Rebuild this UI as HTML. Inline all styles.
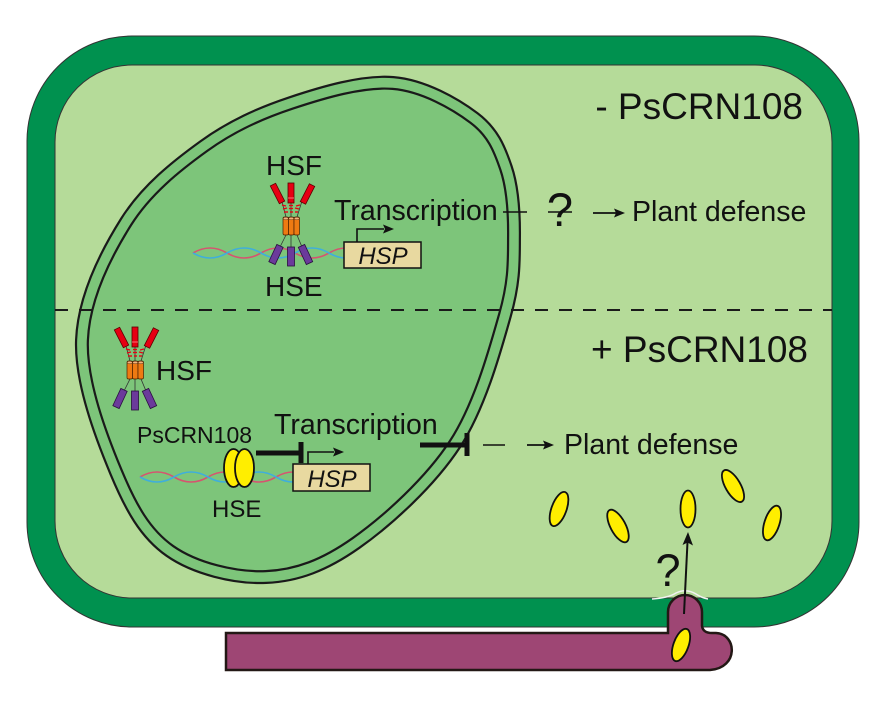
<!DOCTYPE html>
<html><head><meta charset="utf-8"><style>
html,body{margin:0;padding:0;background:#fff;}
svg{display:block;}
text{font-family:"Liberation Sans",Arial,sans-serif;fill:#111;}
</style></head><body>
<svg width="885" height="708" viewBox="0 0 885 708" xmlns="http://www.w3.org/2000/svg">
<defs>
<g id="hsf">
  <line x1="282" y1="202" x2="286" y2="217" stroke="#333" stroke-width="0.8"/>
  <line x1="291" y1="203" x2="291" y2="217" stroke="#333" stroke-width="0.8"/>
  <line x1="302" y1="201" x2="297" y2="217" stroke="#333" stroke-width="0.8"/>
  <rect x="-3" y="-10" width="6" height="20" fill="#E60012" stroke="#5a0000" stroke-width="0.8" transform="translate(277.5,193.5) rotate(-27)"/>
  <rect x="-3" y="-10" width="6" height="20" fill="#E60012" stroke="#5a0000" stroke-width="0.8" transform="translate(307.5,194) rotate(27)"/>
  <rect x="288" y="183" width="6" height="20" fill="#E60012" stroke="#5a0000" stroke-width="0.8"/>
  <line x1="288" y1="198" x2="294" y2="198" stroke="#ff9090" stroke-width="0.8"/>
  <g stroke="#E60012" stroke-width="1.4">
    <line x1="282" y1="205" x2="286" y2="206"/><line x1="289" y1="205.5" x2="293" y2="205.5"/><line x1="296" y1="206" x2="300" y2="205"/>
    <line x1="283" y1="209" x2="287" y2="208"/><line x1="289" y1="208.5" x2="293" y2="208.5"/><line x1="295" y1="208" x2="299" y2="209"/>
    <line x1="284" y1="212" x2="288" y2="212"/><line x1="290" y1="212" x2="293" y2="212"/><line x1="295" y1="212" x2="298" y2="212"/>
  </g>
  <line x1="286" y1="235" x2="280" y2="247" stroke="#333" stroke-width="0.8"/>
  <line x1="291" y1="235" x2="291" y2="247" stroke="#333" stroke-width="0.8"/>
  <line x1="297" y1="235" x2="302" y2="247" stroke="#333" stroke-width="0.8"/>
  <rect x="283" y="217" width="5.5" height="18" rx="1.5" fill="#EE7A12" stroke="#4a2000" stroke-width="0.7"/>
  <rect x="288.5" y="217" width="5.5" height="18" rx="1.5" fill="#EE7A12" stroke="#4a2000" stroke-width="0.7"/>
  <rect x="294" y="217" width="5.5" height="18" rx="1.5" fill="#EE7A12" stroke="#4a2000" stroke-width="0.7"/>
  <ellipse cx="285.75" cy="218.5" rx="2.5" ry="1.3" fill="#F6B27A" stroke="#4a2000" stroke-width="0.5"/>
  <ellipse cx="291.25" cy="218.5" rx="2.5" ry="1.3" fill="#F6B27A" stroke="#4a2000" stroke-width="0.5"/>
  <ellipse cx="296.75" cy="218.5" rx="2.5" ry="1.3" fill="#F6B27A" stroke="#4a2000" stroke-width="0.5"/>
  <rect x="-3.5" y="-9.5" width="7" height="19" fill="#6B3A9B" stroke="#2a1040" stroke-width="0.8" transform="translate(276,254.5) rotate(25)"/>
  <rect x="-3.5" y="-9.5" width="7" height="19" fill="#6B3A9B" stroke="#2a1040" stroke-width="0.8" transform="translate(305.5,254.5) rotate(-25)"/>
  <rect x="287.5" y="247" width="7" height="19" fill="#6B3A9B" stroke="#2a1040" stroke-width="0.8"/>
</g>
</defs>

<!-- cell wall -->
<rect x="27" y="36" width="832" height="591" rx="105" fill="#00914F" stroke="#333" stroke-width="1"/>
<rect x="55" y="65" width="777" height="533" rx="77" fill="#B5DB99" stroke="#333" stroke-width="1"/>

<!-- nucleus -->
<path d="M393,83 C423.5,85.5 455.2,103.8 474,118 C492.8,132.2 499.3,148.3 506,168 C512.7,187.7 514.2,211.5 514,236 C513.8,260.5 514.8,280.3 505,315 C495.2,349.7 479.8,406 455,444 C430.2,482 387.5,520.8 356,543 C324.5,565.2 297,575.7 266,577 C235,578.3 195,568.5 170,551 C145,533.5 130.7,507.2 116,472 C101.3,436.8 80.3,381.7 82,340 C83.7,298.3 105.7,254.3 126,222 C146.3,189.7 176.5,165.8 204,146 C231.5,126.2 259.5,113.5 291,103 C322.5,92.5 362.5,80.5 393,83 Z" fill="#7DC57A" stroke="#1a1a1a" stroke-width="14"/>
<path d="M393,83 C423.5,85.5 455.2,103.8 474,118 C492.8,132.2 499.3,148.3 506,168 C512.7,187.7 514.2,211.5 514,236 C513.8,260.5 514.8,280.3 505,315 C495.2,349.7 479.8,406 455,444 C430.2,482 387.5,520.8 356,543 C324.5,565.2 297,575.7 266,577 C235,578.3 195,568.5 170,551 C145,533.5 130.7,507.2 116,472 C101.3,436.8 80.3,381.7 82,340 C83.7,298.3 105.7,254.3 126,222 C146.3,189.7 176.5,165.8 204,146 C231.5,126.2 259.5,113.5 291,103 C322.5,92.5 362.5,80.5 393,83 Z" fill="none" stroke="#7DC57A" stroke-width="9.6"/>

<!-- dashed divider -->
<line x1="55" y1="310" x2="832" y2="310" stroke="#1a1a1a" stroke-width="2" stroke-dasharray="13 11"/>

<!-- top DNA -->
<path d="M193,253 Q210,243 227,253 T261,253 T295,253 T329,253 T363,253" fill="none" stroke="#D65470" stroke-width="1.6"/>
<path d="M193,253 Q210,263 227,253 T261,253 T295,253 T329,253 T363,253" fill="none" stroke="#3FAEDC" stroke-width="1.6"/>
<use href="#hsf"/>

<!-- top HSP box & arrow -->
<rect x="344" y="242" width="77" height="26" fill="#E8D9A0" stroke="#111" stroke-width="1.5"/>
<text x="383" y="264" font-size="24" font-style="italic" text-anchor="middle">HSP</text>
<path d="M357,242 V229 H384" fill="none" stroke="#111" stroke-width="1.6"/>
<path d="M394,229 L383,224.5 L385,229 L383,233.5 Z" fill="#111"/>

<text x="266" y="175" font-size="28">HSF</text>
<text x="265" y="296" font-size="28">HSE</text>
<text x="334" y="220" font-size="28.5">Transcription</text>
<line x1="503" y1="212" x2="527" y2="212" stroke="#111" stroke-width="1.5"/>
<text x="560" y="226" font-size="47" text-anchor="middle">?</text>
<line x1="548" y1="212" x2="572" y2="212" stroke="#111" stroke-width="1.5"/>
<line x1="593" y1="213" x2="616" y2="213" stroke="#111" stroke-width="1.8"/>
<path d="M625,213 L614,208.5 L616,213 L614,217.5 Z" fill="#111"/>
<text x="632" y="221" font-size="28.5">Plant defense</text>
<text x="803" y="119" font-size="37" text-anchor="end">- PsCRN108</text>

<!-- bottom -->
<text x="808" y="362" font-size="37" text-anchor="end">+ PsCRN108</text>
<use href="#hsf" transform="translate(-156,144)"/>
<text x="156" y="380" font-size="28">HSF</text>
<text x="137" y="443" font-size="23">PsCRN108</text>

<path d="M140,477 Q157,467 174,477 T208,477 T242,477 T276,477 T310,477" fill="none" stroke="#D65470" stroke-width="1.6"/>
<path d="M140,477 Q157,487 174,477 T208,477 T242,477 T276,477 T310,477" fill="none" stroke="#3FAEDC" stroke-width="1.6"/>
<ellipse cx="233.5" cy="468" rx="9.5" ry="19" fill="#FFEE00" stroke="#111" stroke-width="1.8"/>
<ellipse cx="244.5" cy="468" rx="9.5" ry="19" fill="#FFEE00" stroke="#111" stroke-width="1.8"/>
<text x="212" y="517" font-size="24">HSE</text>

<line x1="256" y1="453" x2="300" y2="453" stroke="#111" stroke-width="5"/>
<line x1="301" y1="442" x2="301" y2="463" stroke="#111" stroke-width="5"/>
<rect x="293" y="464" width="77" height="27" fill="#E8D9A0" stroke="#111" stroke-width="1.5"/>
<text x="332" y="487" font-size="24" font-style="italic" text-anchor="middle">HSP</text>
<path d="M308,464 V452 H334" fill="none" stroke="#111" stroke-width="1.6"/>
<path d="M344,452 L333,447.5 L335,452 L333,456.5 Z" fill="#111"/>
<text x="274" y="434" font-size="28.5">Transcription</text>

<line x1="420" y1="445" x2="466" y2="445" stroke="#111" stroke-width="5"/>
<line x1="467" y1="433" x2="467" y2="456" stroke="#111" stroke-width="5"/>
<line x1="483" y1="445" x2="505" y2="445" stroke="#111" stroke-width="1.5"/>
<line x1="527" y1="445" x2="545" y2="445" stroke="#111" stroke-width="1.8"/>
<path d="M554,445 L543,440.5 L545,445 L543,449.5 Z" fill="#111"/>
<text x="564" y="454" font-size="28.5">Plant defense</text>

<!-- effectors -->
<g fill="#FFEE00" stroke="#111" stroke-width="1.8">
  <ellipse cx="0" cy="0" rx="7.5" ry="18" transform="translate(559,509) rotate(20)"/>
  <ellipse cx="0" cy="0" rx="7.5" ry="18" transform="translate(618,526) rotate(-28)"/>
  <ellipse cx="0" cy="0" rx="7.5" ry="18.5" transform="translate(688,509)"/>
  <ellipse cx="0" cy="0" rx="7.5" ry="18" transform="translate(733,486) rotate(-30)"/>
  <ellipse cx="0" cy="0" rx="7.5" ry="18" transform="translate(772,523) rotate(18)"/>
</g>

<!-- hypha -->
<path d="M226,633 H668 V612 A17,17 0 0 1 702,612 V626 Q703,633 712,633 H716 C737,634 739,668 710,670 H226 Z" fill="#9E4674" stroke="#231815" stroke-width="2.5"/>
<path d="M652,599 Q668,598 676,593 Q686,588 696,594 Q702,598 708,599" fill="none" stroke="#f2f2f2" stroke-width="1.5"/>
<ellipse cx="0" cy="0" rx="7.5" ry="17" transform="translate(681,645) rotate(20)" fill="#FFEE00" stroke="#111" stroke-width="1.8"/>
<line x1="684" y1="614" x2="687.5" y2="542" stroke="#111" stroke-width="2"/>
<path d="M688,532 L682.5,545 L687.6,542.5 L693,545.5 Z" fill="#111"/>
<text x="668" y="586" font-size="45" text-anchor="middle">?</text>
</svg>
</body></html>
